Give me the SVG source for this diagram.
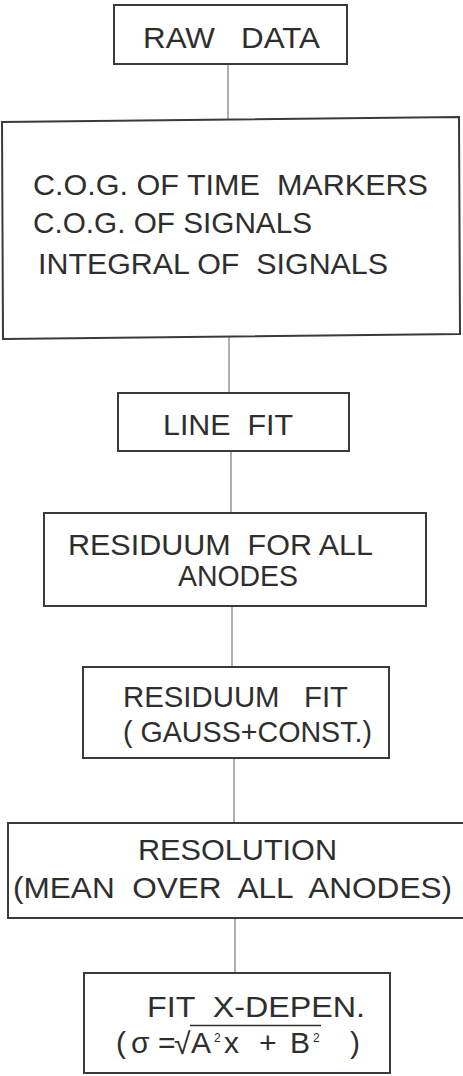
<svg xmlns="http://www.w3.org/2000/svg" width="463" height="1076" viewBox="0 0 463 1076">
  <style>
    .box { fill: #ffffff; stroke: #3a3a3a; stroke-width: 2; }
    .lbl { font-family: "Liberation Sans", "DejaVu Sans", sans-serif; font-size: 30px; fill: #2e2e2e; }
    .sup { font-family: "Liberation Sans", "DejaVu Sans", sans-serif; font-size: 12px; fill: #2e2e2e; }
    .link { stroke: #7a7a7a; stroke-width: 1.2; fill: none; }
  </style>
  <rect width="463" height="1076" fill="#ffffff"/>

  <!-- connectors between the processing steps -->
  <g id="connectors">
    <line class="link" x1="228" y1="64" x2="228" y2="119"/>
    <line class="link" x1="229" y1="337" x2="229" y2="393"/>
    <line class="link" x1="231" y1="451" x2="231" y2="513"/>
    <line class="link" x1="232" y1="606" x2="232" y2="667"/>
    <line class="link" x1="234" y1="758" x2="234" y2="823"/>
    <line class="link" x1="235" y1="918" x2="235" y2="973"/>
  </g>

  <g id="raw-data">
    <rect class="box" x="114" y="5" width="233" height="59"/>
    <text class="lbl" x="143" y="48" textLength="177" lengthAdjust="spacingAndGlyphs" xml:space="preserve">RAW   DATA</text>
  </g>

  <g id="cog">
    <polygon class="box" points="2,122 459,117 460,334 3,339"/>
    <text class="lbl" x="33" y="195" textLength="395" lengthAdjust="spacingAndGlyphs" xml:space="preserve">C.O.G. OF TIME  MARKERS</text>
    <text class="lbl" x="33" y="233" textLength="279" lengthAdjust="spacingAndGlyphs">C.O.G. OF SIGNALS</text>
    <text class="lbl" x="38" y="274" textLength="350" lengthAdjust="spacingAndGlyphs" xml:space="preserve">INTEGRAL OF  SIGNALS</text>
  </g>

  <g id="line-fit">
    <rect class="box" x="118" y="393" width="231" height="58"/>
    <text class="lbl" x="163" y="435" textLength="130" lengthAdjust="spacingAndGlyphs" xml:space="preserve">LINE  FIT</text>
  </g>

  <g id="residuum">
    <rect class="box" x="44" y="513" width="382" height="93"/>
    <text class="lbl" x="68" y="555" textLength="305" lengthAdjust="spacingAndGlyphs" xml:space="preserve">RESIDUUM  FOR ALL</text>
    <text class="lbl" x="178" y="586" textLength="120" lengthAdjust="spacingAndGlyphs">ANODES</text>
  </g>

  <g id="residuum-fit">
    <rect class="box" x="83" y="667" width="306" height="91"/>
    <text class="lbl" x="123" y="707" textLength="225" lengthAdjust="spacingAndGlyphs" xml:space="preserve">RESIDUUM   FIT</text>
    <text class="lbl" x="123" y="742" textLength="249" lengthAdjust="spacingAndGlyphs">( GAUSS+CONST.)</text>
  </g>

  <g id="resolution">
    <rect class="box" x="8" y="823" width="470" height="95"/>
    <text class="lbl" x="138" y="860" textLength="199" lengthAdjust="spacingAndGlyphs">RESOLUTION</text>
    <text class="lbl" x="13" y="898" textLength="439" lengthAdjust="spacingAndGlyphs" xml:space="preserve">(MEAN  OVER  ALL  ANODES)</text>
  </g>

  <g id="fit-x-dependence">
    <rect class="box" x="84" y="973" width="306" height="100"/>
    <text class="lbl" x="147" y="1017" textLength="218" lengthAdjust="spacingAndGlyphs" xml:space="preserve">FIT  X-DEPEN.</text>
    <!-- formula: ( sigma = sqrt(A^2 x + B^2) ) -->
    <text class="lbl" x="116" y="1053">(</text>
    <text class="lbl" x="131" y="1053" font-size="32">σ</text>
    <text class="lbl" x="158" y="1053">=</text>
    <text class="lbl" x="174" y="1054" font-size="33">√</text>
    <line x1="190" y1="1025.5" x2="321" y2="1025.5" stroke="#2e2e2e" stroke-width="1.6"/>
    <text class="lbl" x="191" y="1053">A</text>
    <text class="sup" x="214" y="1042">2</text>
    <text class="lbl" x="224" y="1053">x</text>
    <text class="lbl" x="259" y="1053">+</text>
    <text class="lbl" x="290" y="1053">B</text>
    <text class="sup" x="313" y="1042">2</text>
    <text class="lbl" x="350" y="1053">)</text>
  </g>
</svg>
